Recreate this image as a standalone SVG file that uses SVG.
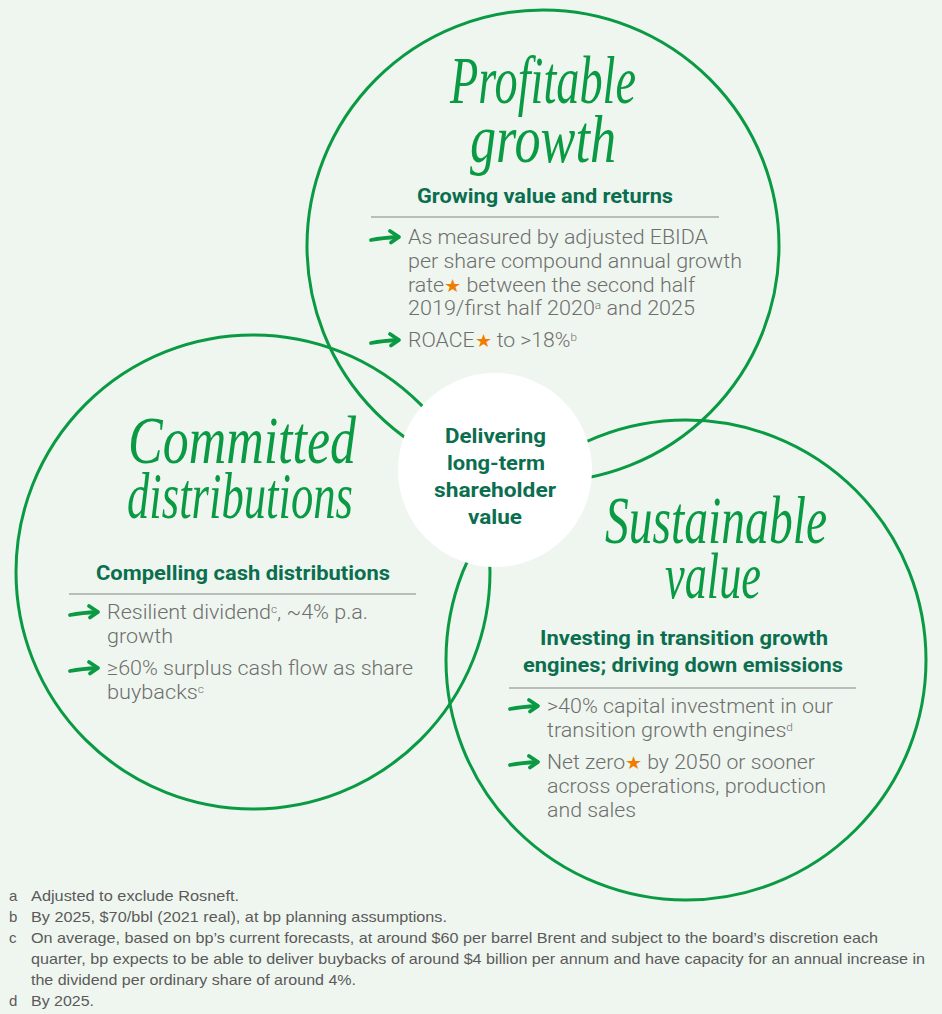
<svg xmlns="http://www.w3.org/2000/svg" width="942" height="1014" viewBox="0 0 942 1014">
<style>
.ring{fill:none;stroke:#0a9a43;stroke-width:3}
.script{font-family:"Liberation Serif",serif;font-style:italic;fill:#0a9a43}
.head{font-family:Roboto,"Liberation Sans",sans-serif;font-weight:700;font-size:20px;fill:#0b6e4f}
.body{font-family:Roboto,"Liberation Sans",sans-serif;font-weight:300;font-size:20px;fill:#6e6e6e}
.sup{font-size:11px}
.star{fill:#f07d00;font-family:"DejaVu Sans",sans-serif;font-size:18px}
.rule{stroke:#a8aaa8;stroke-width:1.5}
.foot{font-family:"Liberation Sans",Roboto,sans-serif;font-size:15px;fill:#5a5a5a}
.arrow{fill:none;stroke:#0a9a43;stroke-width:3.8;stroke-linecap:round;stroke-linejoin:round}
</style>
<defs>
<g id="arr"><path class="arrow" d="M1,3 C9,1.5 18,0.5 28,0"/><path class="arrow" d="M20,-6 L29,0 L21,5.5"/></g>
</defs>
<rect width="942" height="1014" fill="#eff6ef"/>
<g id="connectors">
<circle class="ring" cx="543" cy="246" r="236"/>
<circle class="ring" cx="253" cy="572" r="237"/>
<circle class="ring" cx="686" cy="660" r="240"/>
</g>
<g id="center">
<circle cx="495" cy="470" r="97" fill="#ffffff"/>
<text class="head" x="445" y="443" textLength="101" lengthAdjust="spacingAndGlyphs">Delivering</text>
<text class="head" x="447" y="470" textLength="98" lengthAdjust="spacingAndGlyphs">long-term</text>
<text class="head" x="434" y="497" textLength="122" lengthAdjust="spacingAndGlyphs">shareholder</text>
<text class="head" x="468" y="524" textLength="54" lengthAdjust="spacingAndGlyphs">value</text>
</g>
<g id="profitable">
<text class="script" x="450" y="103" font-size="68" textLength="186" lengthAdjust="spacingAndGlyphs">Profitable</text>
<text class="script" x="470" y="162" font-size="68" textLength="146" lengthAdjust="spacingAndGlyphs">growth</text>
<text class="head" x="417" y="203" textLength="256" lengthAdjust="spacingAndGlyphs">Growing value and returns</text>
<line class="rule" x1="371" y1="217" x2="719" y2="217"/>
<use href="#arr" x="370" y="237"/>
<text class="body" x="408" y="244" textLength="300" lengthAdjust="spacingAndGlyphs">As measured by adjusted EBIDA</text>
<text class="body" x="408" y="268" textLength="334" lengthAdjust="spacingAndGlyphs">per share compound annual growth</text>
<text class="body" x="408" y="292" textLength="287" lengthAdjust="spacingAndGlyphs">rate<tspan class="star">★</tspan> between the second half</text>
<text class="body" x="408" y="315" textLength="287" lengthAdjust="spacingAndGlyphs">2019/first half 2020<tspan class="sup" baseline-shift="super">a</tspan> and 2025</text>
<use href="#arr" x="370" y="340"/>
<text class="body" x="408" y="347" textLength="169" lengthAdjust="spacingAndGlyphs">ROACE<tspan class="star">★</tspan> to &gt;18%<tspan class="sup" baseline-shift="super">b</tspan></text>
</g>
<g id="committed">
<text class="script" x="128" y="463" font-size="68" textLength="228" lengthAdjust="spacingAndGlyphs">Committed</text>
<text class="script" x="127" y="518" font-size="66" textLength="226" lengthAdjust="spacingAndGlyphs">distributions</text>
<text class="head" x="96" y="580" textLength="294" lengthAdjust="spacingAndGlyphs">Compelling cash distributions</text>
<line class="rule" x1="69" y1="594" x2="416" y2="594"/>
<use href="#arr" x="69" y="612"/>
<text class="body" x="107" y="619" textLength="261" lengthAdjust="spacingAndGlyphs">Resilient dividend<tspan class="sup" baseline-shift="super">c</tspan>, ~4% p.a.</text>
<text class="body" x="107" y="643" textLength="66" lengthAdjust="spacingAndGlyphs">growth</text>
<use href="#arr" x="69" y="668"/>
<text class="body" x="107" y="675" textLength="306" lengthAdjust="spacingAndGlyphs">≥60% surplus cash flow as share</text>
<text class="body" x="107" y="699" textLength="97" lengthAdjust="spacingAndGlyphs">buybacks<tspan class="sup" baseline-shift="super">c</tspan></text>
</g>
<g id="sustainable">
<text class="script" x="605" y="543" font-size="68" textLength="222" lengthAdjust="spacingAndGlyphs">Sustainable</text>
<text class="script" x="665" y="598" font-size="66" textLength="96" lengthAdjust="spacingAndGlyphs">value</text>
<text class="head" x="540" y="645" textLength="288" lengthAdjust="spacingAndGlyphs">Investing in transition growth</text>
<text class="head" x="523" y="672" textLength="320" lengthAdjust="spacingAndGlyphs">engines; driving down emissions</text>
<line class="rule" x1="509" y1="688" x2="856" y2="688"/>
<use href="#arr" x="509" y="706"/>
<text class="body" x="547" y="713" textLength="286" lengthAdjust="spacingAndGlyphs">&gt;40% capital investment in our</text>
<text class="body" x="547" y="737" textLength="246" lengthAdjust="spacingAndGlyphs">transition growth engines<tspan class="sup" baseline-shift="super">d</tspan></text>
<use href="#arr" x="509" y="762"/>
<text class="body" x="547" y="769" textLength="268" lengthAdjust="spacingAndGlyphs">Net zero<tspan class="star">★</tspan> by 2050 or sooner</text>
<text class="body" x="547" y="793" textLength="279" lengthAdjust="spacingAndGlyphs">across operations, production</text>
<text class="body" x="547" y="817" textLength="89" lengthAdjust="spacingAndGlyphs">and sales</text>
</g>
<g id="footnotes">
<text class="foot" x="9" y="901">a</text>
<text class="foot" x="31" y="901" textLength="208" lengthAdjust="spacingAndGlyphs">Adjusted to exclude Rosneft.</text>
<text class="foot" x="9" y="922">b</text>
<text class="foot" x="31" y="922" textLength="416" lengthAdjust="spacingAndGlyphs">By 2025, $70/bbl (2021 real), at bp planning assumptions.</text>
<text class="foot" x="9" y="943">c</text>
<text class="foot" x="31" y="943" textLength="847" lengthAdjust="spacingAndGlyphs">On average, based on bp’s current forecasts, at around $60 per barrel Brent and subject to the board’s discretion each</text>
<text class="foot" x="31" y="964" textLength="894" lengthAdjust="spacingAndGlyphs">quarter, bp expects to be able to deliver buybacks of around $4 billion per annum and have capacity for an annual increase in</text>
<text class="foot" x="31" y="985" textLength="325" lengthAdjust="spacingAndGlyphs">the dividend per ordinary share of around 4%.</text>
<text class="foot" x="9" y="1006">d</text>
<text class="foot" x="31" y="1006" textLength="63" lengthAdjust="spacingAndGlyphs">By 2025.</text>
</g>
</svg>
